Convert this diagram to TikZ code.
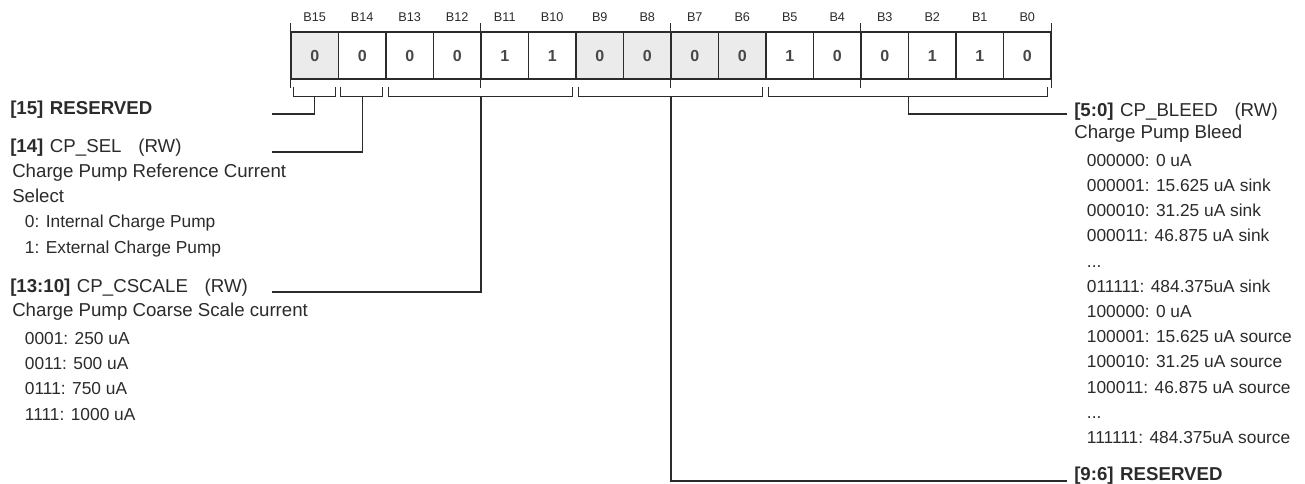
\documentclass[tikz,border=0pt]{standalone}
\usepackage{fontspec}
\setmainfont{Liberation Sans}
\usepackage{tikz}
\usetikzlibrary{positioning,calc}
\definecolor{rsvgray}{HTML}{EBEBEB}
\definecolor{inkgray}{HTML}{2B2B2B}
\newcommand{\bodytxt}[1]{{\fontsize{14}{18.9}\selectfont #1}}
\newcommand{\itm}[1]{\hspace{9.5pt}#1}

\begin{document}
\begin{tikzpicture}[x=0.75pt, y=-0.75pt,
    every node/.style={inner sep=0pt, text=inkgray},
    rwcell/.style={draw=inkgray, line width=1pt, minimum width=35.625pt, minimum height=35.25pt,
      font=\fontsize{12}{12}\selectfont\bfseries, text=black!72},
    rsvcell/.style={rwcell, fill=rsvgray},
    bitname/.style={font=\fontsize{9.5}{10}\selectfont},
    hdr/.style={anchor=base west, font=\fontsize{14}{18.9}\selectfont},
    desc/.style={anchor=base west, align=left, font=\fontsize{13}{18.9}\selectfont},
    tick/.style={draw=inkgray, line width=0.9pt},
    brkt/.style={draw=inkgray, line width=0.9pt},
    wire/.style={draw=inkgray, line width=0.9pt}]
      \path[use as bounding box, fill=white] (0,0) rectangle (1305,483);
      \foreach \i/\v/\s in {15/0/rsvcell, 14/0/rwcell, 13/0/rwcell, 12/0/rwcell, 11/1/rwcell, 10/1/rwcell,
          9/0/rsvcell, 8/0/rsvcell, 7/0/rsvcell, 6/0/rsvcell, 5/1/rwcell, 4/0/rwcell, 3/0/rwcell,
          2/1/rwcell, 1/1/rwcell, 0/0/rwcell}
        \node[\s] (b\i) at ({314.75+(15-\i)*47.5},55.5) {\v};
      \foreach \i in {15,...,0}
        \node[bitname] (n\i) at (b\i |- 0,17) {B\i};
      \foreach \c/\a in {b15/west, b11/west, b7/west, b3/west, b0/east}
        \draw[tick] ([yshift=6pt]\c.north \a) -- ([yshift=-6pt]\c.south \a);
      \foreach \l/\r/\f in {15/15/f15, 14/14/f14, 13/10/f13, 9/6/f9, 5/0/f5} {
        \draw[brkt] ([shift={(3,7)}]b\l.south west) -- ++(0,10) -| ([shift={(-4,7)}]b\r.south east);
        \coordinate (\f) at ($(b\l.south west)!0.5!(b\r.south east)+(0,17)$);
      }

      % multi-line nodes sit on the baseline of their last line
      \node[hdr] (rsv15) at (10,114) {\textbf{[15]\hspace{0.35em}RESERVED}};
      \node[hdr] (cpsel) at (10,152) {\textbf{[14]}\hspace{0.35em}CP\_SEL\hspace{0.9em}(RW)};
      \node[desc] (cpseldesc) at (12,253) {\bodytxt{Charge Pump Reference Current}\\
        \bodytxt{Select}\\ \itm{0: Internal Charge Pump}\\ \itm{1: External Charge Pump}};
      \node[hdr] (cpcscale) at (10,292) {\textbf{[13:10]}\hspace{0.35em}CP\_CSCALE\hspace{0.9em}(RW)};
      \node[desc] (cpcscaledesc) at (12,420) {\bodytxt{Charge Pump Coarse Scale current}\\[2pt]
        \itm{0001: 250 uA}\\ \itm{0011: 500 uA}\\ \itm{0111: 750 uA}\\ \itm{1111: 1000 uA}};
      \node[hdr] (cpbleed) at (1074,116) {\textbf{[5:0]}\hspace{0.35em}CP\_BLEED\hspace{0.9em}(RW)};
      \node[desc] (cpbleeddesc) at (1074,443.5) {\bodytxt{Charge Pump Bleed}\\[2pt]
        \itm{000000: 0 uA}\\ \itm{000001: 15.625 uA sink}\\ \itm{000010: 31.25 uA sink}\\
        \itm{000011: 46.875 uA sink}\\ \itm{...}\\ \itm{011111: 484.375uA sink}\\
        \itm{100000: 0 uA}\\ \itm{100001: 15.625 uA source}\\ \itm{100010: 31.25 uA source}\\
        \itm{100011: 46.875 uA source}\\ \itm{...}\\ \itm{111111: 484.375uA source}};
      \node[hdr] (rsv96) at (1074,480) {\textbf{[9:6]\hspace{0.35em}RESERVED}};

      \coordinate (e15) at (272,114);
      \coordinate (e14) at (272,152);
      \coordinate (e13) at (272,292);
      \coordinate (e9) at (1067,481);
      \coordinate (e5) at (1067,114);
      \draw[wire] (f15) |- (e15);
      \draw[wire] (f14) |- (e14);
      \draw[wire] (f13) |- (e13);
      \draw[wire] (f9) |- (e9);
      \draw[wire] (f5) |- (e5);
    \end{tikzpicture}
\end{document}
